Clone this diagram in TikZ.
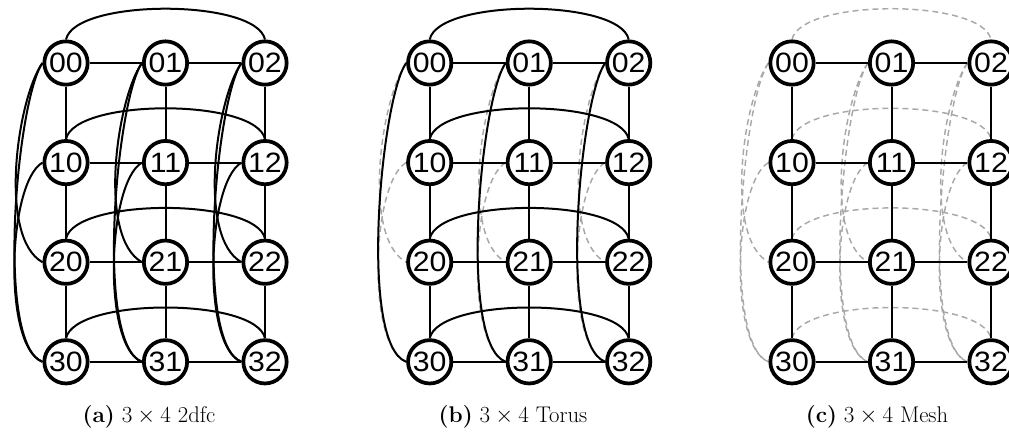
\documentclass[tikz,border=0pt]{standalone}
\usepackage{fontspec}
\newfontfamily\nodefont[FakeStretch=1.08]{Liberation Sans}
\pgfdeclarelayer{bg}
\pgfsetlayers{bg,main}
\definecolor{ghostgrey}{RGB}{168,168,168}
\tikzset{
  vx/.style={circle, draw=black, fill=white, line width=2.8pt, minimum size=32.5pt, inner sep=0pt, font=\nodefont\fontsize{21}{21}\selectfont},
  link/.style={line width=1.5pt, draw=black},
  ghost/.style={line width=1.1pt, draw=ghostgrey, dash pattern=on 4.5pt off 3pt},
  caption/.style={font=\fontsize{17}{19}\selectfont, anchor=base},
}
\newcommand{\rowarc}[3]{\draw[#1] (#2.north) .. controls +(9,41) and +(-9,41) .. (#3.north);}
\newcommand{\longcol}[3]{\draw[#1] (#2.west) .. controls +(-25,-35) and +(-48,18) .. (#3.west);}
\newcommand{\topcol}[3]{\draw[#1] (#2.west) .. controls +(-25,-35) and +(-45,25) .. (#3.west);}
\newcommand{\botcol}[3]{\draw[#1] (#2.west) .. controls +(-35,-20) and +(-40,15) .. (#3.west);}
\begin{document}
\begin{tikzpicture}[x=0.75pt,y=0.75pt]
\useasboundingbox (0,0) rectangle (1009,432);
\clip (0,0) rectangle (1009,432);
\foreach \p/\ox in {a/66, b/429.7, c/792}{
  \foreach \r in {0,...,3}{
    \foreach \c in {0,1,2}{
      \node[vx] (\p\r\c) at ({\ox+99.5*\c}, {369-99.6*\r}) {\r\c};
    }
  }
}
\begin{pgfonlayer}{bg}
  % ghost (dashed) edges
  \foreach \c in {0,1,2}{
    \topcol{ghost}{b0\c}{b2\c}
    \botcol{ghost}{b1\c}{b3\c}
    \longcol{ghost}{c0\c}{c3\c}
    \topcol{ghost}{c0\c}{c2\c}
    \botcol{ghost}{c1\c}{c3\c}
  }
  \foreach \r in {0,...,3}{
    \rowarc{ghost}{c\r0}{c\r2}
  }
  % solid wrap edges
  \foreach \c in {0,1,2}{
    \longcol{link}{a0\c}{a3\c}
    \topcol{link}{a0\c}{a2\c}
    \botcol{link}{a1\c}{a3\c}
    \longcol{link}{b0\c}{b3\c}
  }
  \foreach \r in {0,...,3}{
    \rowarc{link}{a\r0}{a\r2}
    \rowarc{link}{b\r0}{b\r2}
  }
  % mesh edges
  \foreach \p in {a,b,c}{
    \foreach \r in {0,...,3}{
      \draw[link] (\p\r0) -- (\p\r1);
      \draw[link] (\p\r1) -- (\p\r2);
    }
    \foreach \c in {0,1,2}{
      \draw[link] (\p0\c) -- (\p1\c);
      \draw[link] (\p1\c) -- (\p2\c);
      \draw[link] (\p2\c) -- (\p3\c);
    }
  }
\end{pgfonlayer}
\node[caption] (capa) at (149,10) {\textbf{(a)} $3\times4$ 2dfc};
\node[caption] (capb) at (513,10) {\textbf{(b)} $3\times4$ Torus};
\node[caption] (capc) at (877,10) {\textbf{(c)} $3\times4$ Mesh};
\end{tikzpicture}
\end{document}
